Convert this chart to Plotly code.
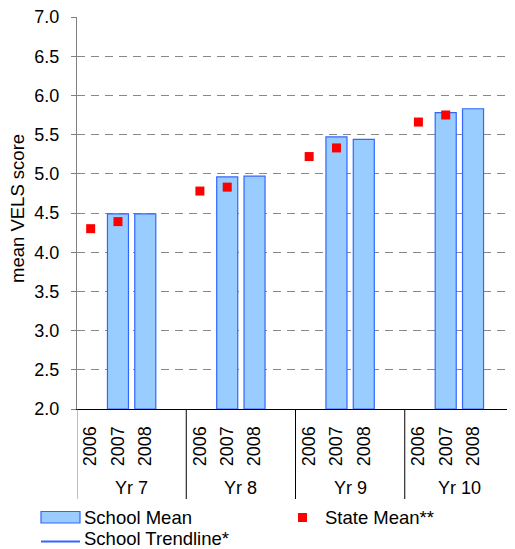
import plotly.graph_objects as go

# ---- data ----
groups = ["Yr 7", "Yr 8", "Yr 9", "Yr 10"]
years = ["2006", "2007", "2008"]
school_mean = [None, 4.49, 4.49,
               None, 4.96, 4.97,
               None, 5.47, 5.44,
               None, 5.78, 5.83]
state_mean = [4.30, 4.39, None,
              4.78, 4.83, None,
              5.22, 5.33, None,
              5.66, 5.75, None]
y_ticks = [2.0, 2.5, 3.0, 3.5, 4.0, 4.5, 5.0, 5.5, 6.0, 6.5, 7.0]

SLOTS = 4  # three years plus a blank slot per group
xpos = [g * SLOTS + i for g in range(len(groups)) for i in range(len(years))]

OFF = 8  # page body margin
W, H = 515 - OFF, 549 - OFF
ML, MR, MT, MB = 77 - OFF, 1, 17 - OFF, 140
PW, PH = W - ML - MR, H - MT - MB
FONT = "Arial, Liberation Sans, sans-serif"
FS = 18


def px_x(px):
    return (px - OFF - ML) / PW


def px_y(py):
    return (H - MB - (py - OFF)) / PH


fig = go.Figure()
fig.add_trace(go.Bar(
    x=xpos, y=[v - 2.0 if v is not None else None for v in school_mean], base=2.0,
    width=0.77, marker=dict(color="#99CCFF", line=dict(color="#3366FF", width=1.2)),
    name="School Mean", showlegend=False))
fig.add_trace(go.Scatter(
    x=xpos, y=state_mean, mode="markers",
    marker=dict(symbol="square", size=9, color="#FF0000"),
    name="State Mean**", showlegend=False))

shapes = []
annotations = []
# group separators
for g in range(len(groups) + 1):
    shapes.append(dict(type="line", xref="x", yref="paper",
                       x0=g * SLOTS - 0.5, x1=g * SLOTS - 0.5,
                       y0=0, y1=px_y(499),
                       line=dict(color="#808080" if g == 0 else "#000000", width=1)))
# group labels
for g, name in enumerate(groups):
    annotations.append(dict(text=name, xref="x", yref="paper", x=g * SLOTS + 1.5,
                            y=px_y(488), showarrow=False, xanchor="center", yanchor="middle",
                            font=dict(family=FONT, size=FS, color="#000")))
# y axis title
annotations.append(dict(text="mean VELS score", xref="paper", yref="paper",
                        x=px_x(17), y=px_y(209), textangle=-90, showarrow=False,
                        xanchor="center", yanchor="middle",
                        font=dict(family=FONT, size=18.5, color="#000")))
# legend (drawn manually)
shapes.append(dict(type="rect", xref="paper", yref="paper",
                   x0=px_x(41), x1=px_x(80), y0=px_y(523), y1=px_y(511.5),
                   fillcolor="#99CCFF", line=dict(color="#3366FF", width=1.2)))
shapes.append(dict(type="line", xref="paper", yref="paper",
                   x0=px_x(41), x1=px_x(80), y0=px_y(541.5), y1=px_y(541.5),
                   line=dict(color="#3366FF", width=2)))
shapes.append(dict(type="rect", xref="paper", yref="paper",
                   x0=px_x(298), x1=px_x(307), y0=px_y(522), y1=px_y(513),
                   fillcolor="#FF0000", line=dict(width=0)))
for txt, x, y in [("School Mean", 83, 517), ("School Trendline*", 83, 538.5),
                  ("State Mean**", 324, 517)]:
    annotations.append(dict(text=txt, xref="paper", yref="paper", x=px_x(x), y=px_y(y),
                            showarrow=False, xanchor="left", yanchor="middle", borderpad=0,
                            font=dict(family=FONT, size=18.5, color="#000")))

fig.update_layout(
    width=W, height=H, margin=dict(l=ML, r=MR, t=MT, b=MB, autoexpand=False),
    paper_bgcolor="white", plot_bgcolor="white",
    font=dict(family=FONT, size=FS, color="#000"),
    showlegend=False, shapes=shapes, annotations=annotations,
    xaxis=dict(range=[-0.5, len(groups) * SLOTS - 0.5], automargin=False,
               tickvals=xpos, ticktext=[years[i % 3] for i in range(len(xpos))],
               tickangle=-90, ticks="", ticklabelstandoff=9,
               showline=True, linecolor="#000", linewidth=1,
               showgrid=False, zeroline=False,
               tickfont=dict(family=FONT, size=FS, color="#000")),
    yaxis=dict(range=[2.0, 7.0], tickvals=y_ticks, tickformat=".1f", automargin=False,
               ticks="outside", ticklen=5, tickcolor="#808080",
               showline=True, linecolor="#808080", linewidth=1,
               showgrid=True, gridcolor="#888888", griddash="8px,6px", gridwidth=1,
               zeroline=False, ticklabelstandoff=8, ticklabeloverflow="allow",
               tickfont=dict(family=FONT, size=FS, color="#000")),
)

fig.write_html("out.html")
